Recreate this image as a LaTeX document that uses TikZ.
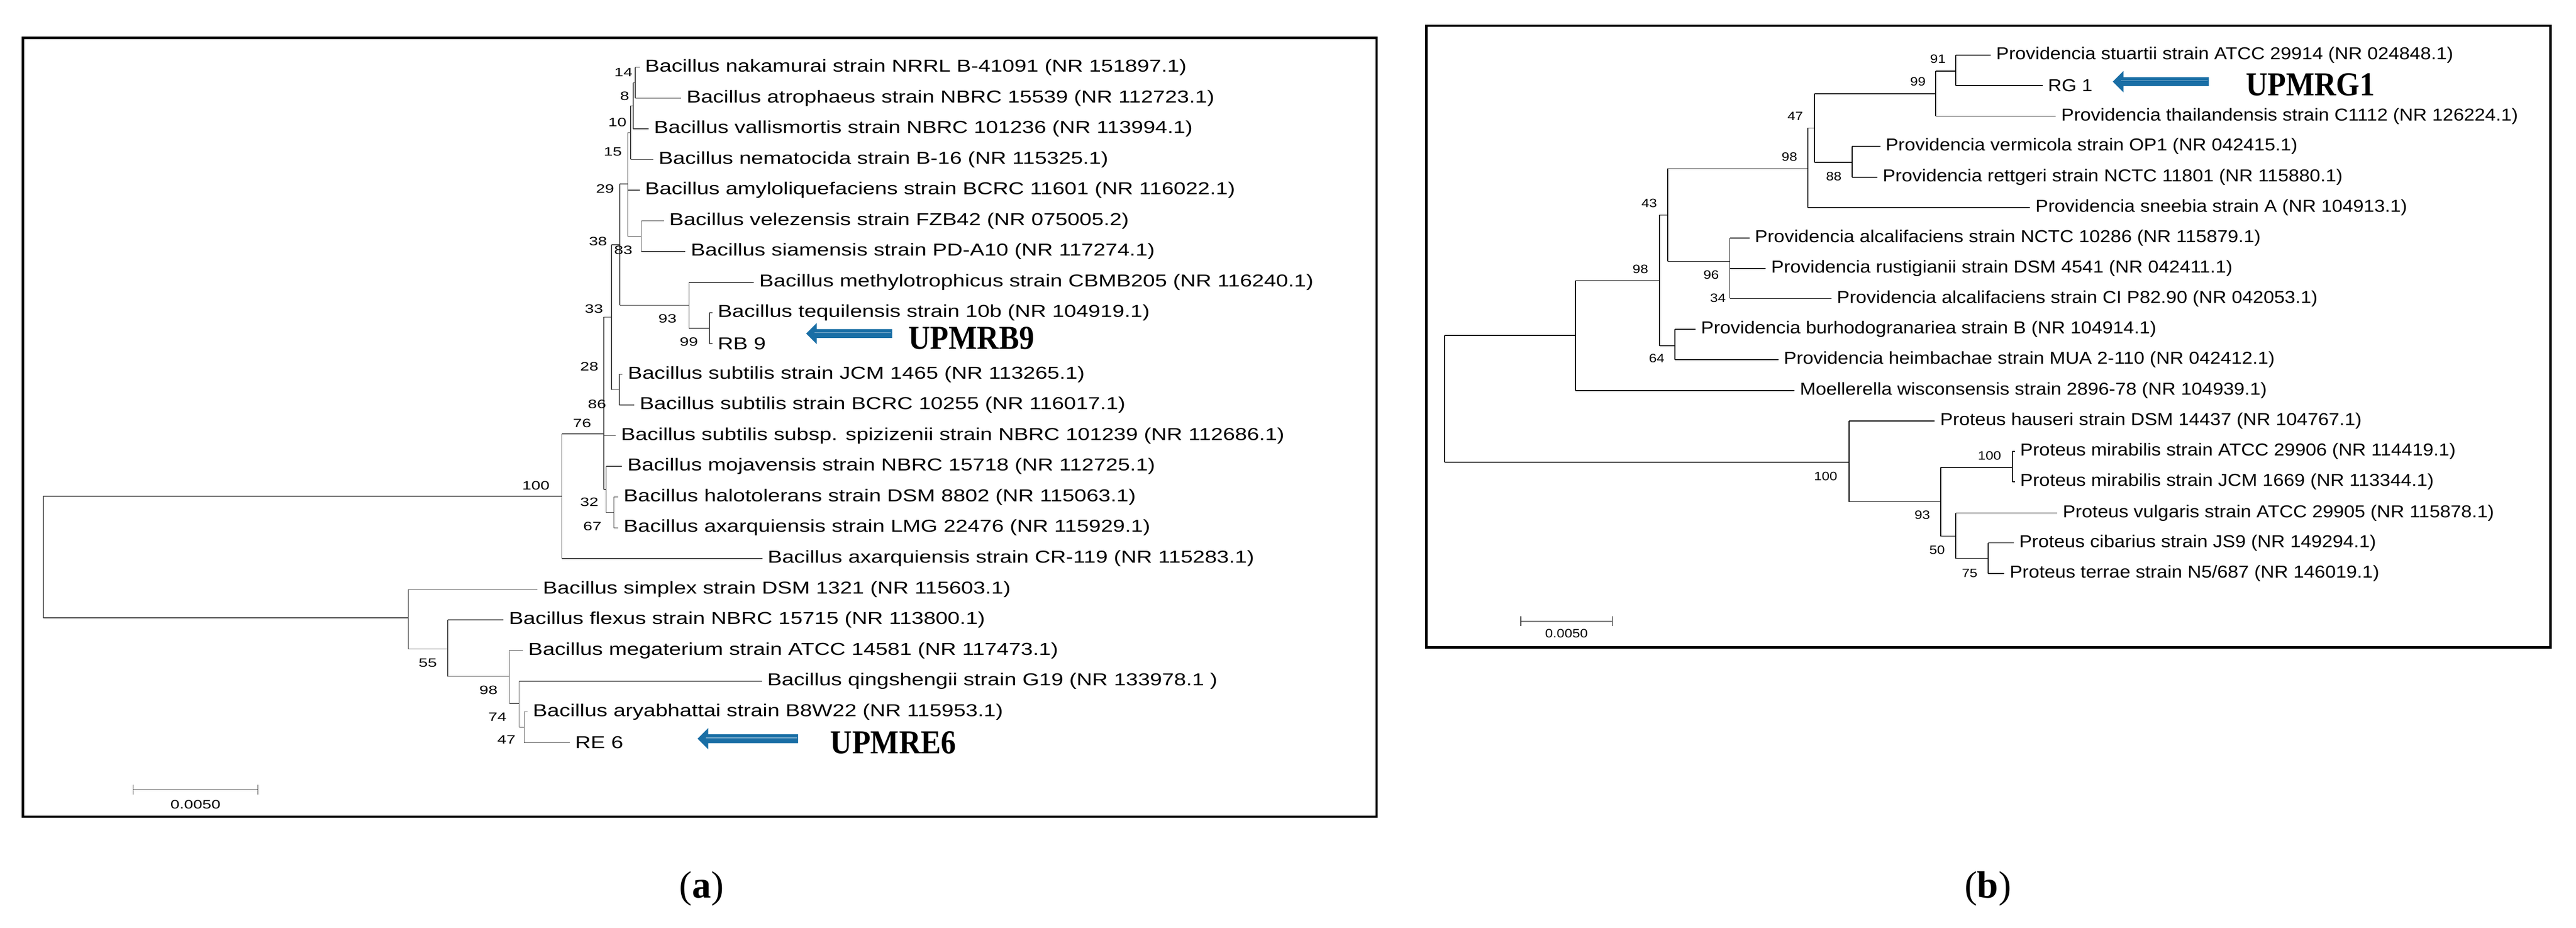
\documentclass[tikz,border=0pt]{standalone}
\usepackage{fontspec}
\setmainfont{Liberation Serif}
\newfontfamily\lsans{Liberation Sans}
\definecolor{arrowblue}{RGB}{25,110,165}
\newcommand\LfA[5]{\node[lfA] (#1) at (#3,#4) {#5}; \draw[brA] (#2,#4) -- (#3-3.2,#4);}
\newcommand\LfB[5]{\node[lfB] (#1) at (#3,#4) {#5}; \draw[brB] (#2,#4) -- (#3-3.2,#4);}
\newcommand\BlueArrow[3]{%
 \fill[arrowblue] (#1,#3) -- (#1+6.5,#3-6.5) -- (#1+6.5,#3-2.7) -- (#2,#3-2.7) -- (#2,#3+2.7) -- (#1+6.5,#3+2.7) -- (#1+6.5,#3+6.5) -- cycle;
 \draw[arrowblue!55!white, line width=1.5pt] (#1+5,#3-0.6) -- (#2-0.8,#3-0.6);}
\begin{document}
\begin{tikzpicture}[x=0.1cm,y=-0.1cm,
 brA/.style={line width=1.3pt, draw=black!75},
 brB/.style={line width=1.5pt, draw=black},
 frame/.style={line width=4pt, draw=black},
 lfA/.style={font=\lsans\fontsize{30}{30}\selectfont, anchor=west, inner sep=0pt, xscale=1.25, transform shape},
 lfB/.style={font=\lsans\fontsize{30}{30}\selectfont, anchor=west, inner sep=0pt, xscale=1.1, transform shape},
 supA/.style={font=\lsans\fontsize{21}{21}\selectfont, inner sep=0pt, xscale=1.35, transform shape},
 supB/.style={font=\lsans\fontsize{21}{21}\selectfont, inner sep=0pt, xscale=1.15, transform shape},
 tag/.style={font=\fontsize{58}{58}\selectfont\bfseries, inner sep=0pt, xscale=0.9, transform shape},
 panellabel/.style={font=\fontsize{66}{66}\selectfont, inner sep=0pt}]
\useasboundingbox (0,0) rectangle (1568,564.6);
\fill[white] (0,0) rectangle (1568,564.6);
% ================= panel (a)
\draw[frame] (14,23) rectangle (838,497);
\LfA{a0}{386.7}{392.6}{41}{Bacillus nakamurai strain NRRL B-41091 (NR 151897.1)}
\LfA{a1}{386.7}{417.8}{59.7}{Bacillus atrophaeus strain NBRC 15539 (NR 112723.1)}
\LfA{a2}{385.4}{398}{78.4}{Bacillus vallismortis strain NBRC 101236 (NR 113994.1)}
\LfA{a3}{383.8}{400.8}{97}{Bacillus nematocida strain B-16 (NR 115325.1)}
\LfA{a4}{382.1}{392.6}{115.7}{Bacillus amyloliquefaciens strain BCRC 11601 (NR 116022.1)}
\LfA{a5}{390.3}{407.3}{134.4}{Bacillus velezensis strain FZB42 (NR 075005.2)}
\LfA{a6}{390.3}{420.4}{153.1}{Bacillus siamensis strain PD-A10 (NR 117274.1)}
\LfA{a7}{419.4}{462}{171.8}{Bacillus methylotrophicus strain CBMB205 (NR 116240.1)}
\LfA{a8}{431.8}{436.8}{190.4}{Bacillus tequilensis strain 10b (NR 104919.1)}
\LfA{a9}{431.8}{436.8}{209.1}{RB 9}
\LfA{a10}{377}{382.1}{227.8}{Bacillus subtilis strain JCM 1465 (NR 113265.1)}
\LfA{a11}{377}{389.3}{246.5}{Bacillus subtilis strain BCRC 10255 (NR 116017.1)}
\LfA{a12}{367.5}{377.9}{265.2}{Bacillus subtilis subsp. spizizenii strain NBRC 101239 (NR 112686.1)}
\LfA{a13}{369}{381.8}{283.8}{Bacillus mojavensis strain NBRC 15718 (NR 112725.1)}
\LfA{a14}{373.6}{379.5}{302.5}{Bacillus halotolerans strain DSM 8802 (NR 115063.1)}
\LfA{a15}{373.6}{379.5}{321.2}{Bacillus axarquiensis strain LMG 22476 (NR 115929.1)}
\LfA{a16}{342}{467.2}{339.9}{Bacillus axarquiensis strain CR-119 (NR 115283.1)}
\LfA{a17}{248.6}{330.4}{358.6}{Bacillus simplex strain DSM 1321 (NR 115603.1)}
\LfA{a18}{272.5}{309.7}{377.2}{Bacillus flexus strain NBRC 15715 (NR 113800.1)}
\LfA{a19}{310}{321.5}{395.9}{Bacillus megaterium strain ATCC 14581 (NR 117473.1)}
\LfA{a20}{316}{467}{414.6}{Bacillus qingshengii strain G19 (NR 133978.1 )}
\LfA{a21}{319}{324.3}{433.3}{Bacillus aryabhattai strain B8W22 (NR 115953.1)}
\LfA{a22}{319}{350}{452}{RE 6}
% verticals and internal branches (a)
\draw[brA] (386.7,41) -- (386.7,59.7);
\draw[brA] (385.4,50.4) -- (385.4,78.4) (385.4,50.4) -- (386.7,50.4);
\draw[brA] (383.8,64.4) -- (383.8,97) (383.8,64.4) -- (385.4,64.4);
\draw[brA] (382.1,80.7) -- (382.1,143.8) (382.1,80.7) -- (383.8,80.7) (382.1,143.8) -- (390.3,143.8);
\draw[brA] (390.3,134.4) -- (390.3,153.1);
\draw[brA] (377.2,112) -- (377.2,185.8) (377.2,112) -- (382.1,112) (377.2,185.8) -- (419.4,185.8);
\draw[brA] (419.4,171.8) -- (419.4,199.8) (419.4,199.8) -- (431.8,199.8);
\draw[brA] (431.8,190.4) -- (431.8,209.1);
\draw[brA] (377,227.8) -- (377,246.5);
\draw[brA] (372.3,149) -- (372.3,237.2) (372.3,149) -- (377.2,149) (372.3,237.2) -- (377,237.2);
\draw[brA] (367.5,193) -- (367.5,297.9) (367.5,193) -- (372.3,193) (367.5,297.9) -- (369,297.9);
\draw[brA] (369,283.8) -- (369,311.9) (369,311.9) -- (373.6,311.9);
\draw[brA] (373.6,302.5) -- (373.6,321.2);
\draw[brA] (342,264) -- (342,339.9) (342,264) -- (367.5,264);
\draw[brA] (26.4,302) -- (26.4,376) (26.4,302) -- (342,302) (26.4,376) -- (248.6,376);
\draw[brA] (248.6,358.6) -- (248.6,395) (248.6,395) -- (272.5,395);
\draw[brA] (272.5,377.2) -- (272.5,411.6) (272.5,411.6) -- (310,411.6);
\draw[brA] (310,395.9) -- (310,428) (310,428) -- (316,428);
\draw[brA] (316,414.6) -- (316,442.6) (316,442.6) -- (319,442.6);
\draw[brA] (319,433.3) -- (319,452);
% support values (a)
\node[supA] (sa1) at (379.5,43.9) {14};
\node[supA] (sa2) at (380.2,58.5) {8};
\node[supA] (sa3) at (375.8,74.4) {10};
\node[supA] (sa4) at (373,92.3) {15};
\node[supA] (sa5) at (368.3,114.9) {29};
\node[supA] (sa6) at (364,146.8) {38};
\node[supA] (sa7) at (379.4,152.3) {83};
\node[supA] (sa8) at (361.5,188) {33};
\node[supA] (sa9) at (406.3,194) {93};
\node[supA] (sa10) at (419.3,207.9) {99};
\node[supA] (sa11) at (358.7,223) {28};
\node[supA] (sa12) at (363.4,245.9) {86};
\node[supA] (sa13) at (354.3,257.5) {76};
\node[supA] (sa14) at (326.2,295.4) {100};
\node[supA] (sa15) at (358.7,305.6) {32};
\node[supA] (sa16) at (360.6,320.2) {67};
\node[supA] (sa17) at (260.4,403.4) {55};
\node[supA] (sa18) at (297.3,419.9) {98};
\node[supA] (sa19) at (302.8,436.4) {74};
\node[supA] (sa20) at (308.3,450.2) {47};
% scale bar (a)
\draw[brA] (81,480.6) -- (157,480.6) (81,477.5) -- (81,483.7) (157,477.5) -- (157,483.7);
\node[supA] (sba) at (119,489.5) {0.0050};
% arrows (a)
\BlueArrow{490.7}{543}{203}
\node[tag, anchor=west] (upb9) at (553,205.8) {UPMRB9};
\BlueArrow{424.6}{485.8}{449.6}
\node[tag, anchor=west] (upe6) at (505.4,452) {UPMRE6};
\node[panellabel] (capa) at (427,541) {(\textbf{a})};
% ================= panel (b)
\draw[frame] (868.2,15.7) rectangle (1552.4,394);
\LfB{b0}{1190.4}{1215}{33.6}{Providencia stuartii strain ATCC 29914 (NR 024848.1)}
\LfB{b1}{1190.4}{1246.5}{52.0}{RG 1}
\LfB{b2}{1178.2}{1254.6}{70.7}{Providencia thailandensis strain C1112 (NR 126224.1)}
\LfB{b3}{1127.4}{1147.7}{89.1}{Providencia vermicola strain OP1 (NR 042415.1)}
\LfB{b4}{1127.4}{1145.9}{107.9}{Providencia rettgeri strain NCTC 11801 (NR 115880.1)}
\LfB{b5}{1100.5}{1238.9}{126.4}{Providencia sneebia strain A (NR 104913.1)}
\LfB{b6}{1052.9}{1068.1}{144.8}{Providencia alcalifaciens strain NCTC 10286 (NR 115879.1)}
\LfB{b7}{1052.9}{1078}{163.4}{Providencia rustigianii strain DSM 4541 (NR 042411.1)}
\LfB{b8}{1052.9}{1118}{181.7}{Providencia alcalifaciens strain CI P82.90 (NR 042053.1)}
\LfB{b9}{1019.6}{1035.3}{200.3}{Providencia burhodogranariea strain B (NR 104914.1)}
\LfB{b10}{1019.6}{1085.7}{218.9}{Providencia heimbachae strain MUA 2-110 (NR 042412.1)}
\LfB{b11}{959}{1095.5}{237.7}{Moellerella wisconsensis strain 2896-78 (NR 104939.1)}
\LfB{b12}{1125.6}{1180.9}{256.3}{Proteus hauseri strain DSM 14437 (NR 104767.1)}
\LfB{b13}{1225}{1229.6}{274.8}{Proteus mirabilis strain ATCC 29906 (NR 114419.1)}
\LfB{b14}{1225}{1229.6}{293.2}{Proteus mirabilis strain JCM 1669 (NR 113344.1)}
\LfB{b15}{1190.4}{1255.5}{312.2}{Proteus vulgaris strain ATCC 29905 (NR 115878.1)}
\LfB{b16}{1210.1}{1229}{330.4}{Proteus cibarius strain JS9 (NR 149294.1)}
\LfB{b17}{1210.1}{1223.2}{349}{Proteus terrae strain N5/687 (NR 146019.1)}
\draw[brB] (879.4,204.1) -- (879.4,281.3) (879.4,204.1) -- (959,204.1) (879.4,281.3) -- (1125.6,281.3);
\draw[brB] (959,170.8) -- (959,237.7) (959,170.8) -- (1010.2,170.8);
\draw[brB] (1010.2,130.9) -- (1010.2,210.4) (1010.2,130.9) -- (1015.1,130.9) (1010.2,210.4) -- (1019.6,210.4);
\draw[brB] (1015.1,102.7) -- (1015.1,159.1) (1015.1,102.7) -- (1100.5,102.7) (1015.1,159.1) -- (1052.9,159.1);
\draw[brB] (1100.5,77.9) -- (1100.5,126.4) (1100.5,77.9) -- (1104.5,77.9);
\draw[brB] (1104.5,57.1) -- (1104.5,98.7) (1104.5,57.1) -- (1178.2,57.1) (1104.5,98.7) -- (1127.4,98.7);
\draw[brB] (1178.2,43.2) -- (1178.2,70.7) (1178.2,43.2) -- (1190.4,43.2);
\draw[brB] (1190.4,33.6) -- (1190.4,52);
\draw[brB] (1127.4,89.1) -- (1127.4,107.9);
\draw[brB] (1052.9,144.8) -- (1052.9,181.7);
\draw[brB] (1019.6,200.3) -- (1019.6,218.9);
\draw[brB] (1125.6,256.3) -- (1125.6,305.3) (1125.6,305.3) -- (1181.4,305.3);
\draw[brB] (1181.4,284.5) -- (1181.4,326.3) (1181.4,284.5) -- (1225,284.5) (1181.4,326.3) -- (1190.4,326.3);
\draw[brB] (1225,274.8) -- (1225,293.2);
\draw[brB] (1190.4,312.2) -- (1190.4,339.8) (1190.4,339.8) -- (1210.1,339.8);
\draw[brB] (1210.1,330.4) -- (1210.1,349);
% support values (b)
\node[supB] (sb1) at (1179.6,35.8) {91};
\node[supB] (sb2) at (1167.4,49.7) {99};
\node[supB] (sb3) at (1092.8,70.7) {47};
\node[supB] (sb4) at (1089.2,95.6) {98};
\node[supB] (sb5) at (1116.2,107.4) {88};
\node[supB] (sb6) at (1003.9,123.8) {43};
\node[supB] (sb7) at (998.5,163.8) {98};
\node[supB] (sb8) at (1041.6,167.4) {96};
\node[supB] (sb9) at (1045.7,181.3) {34};
\node[supB] (sb10) at (1008.4,218.2) {64};
\node[supB] (sb11) at (1111.3,289.8) {100};
\node[supB] (sb12) at (1211,277.4) {100};
\node[supB] (sb13) at (1170.1,313.5) {93};
\node[supB] (sb14) at (1179.1,334.8) {50};
\node[supB] (sb15) at (1198.9,348.9) {75};
\draw[brB] (925.7,378) -- (981.4,378) (925.7,375) -- (925.7,381) (981.4,375) -- (981.4,381);
\node[supB] (sbb) at (953.5,385.5) {0.0050};
\BlueArrow{1286}{1344.5}{49.7}
\node[tag, anchor=west] (upg1) at (1367,51.5) {UPMRG1};
\node[panellabel] (capb) at (1210,541) {(\textbf{b})};
\end{tikzpicture}
\end{document}
